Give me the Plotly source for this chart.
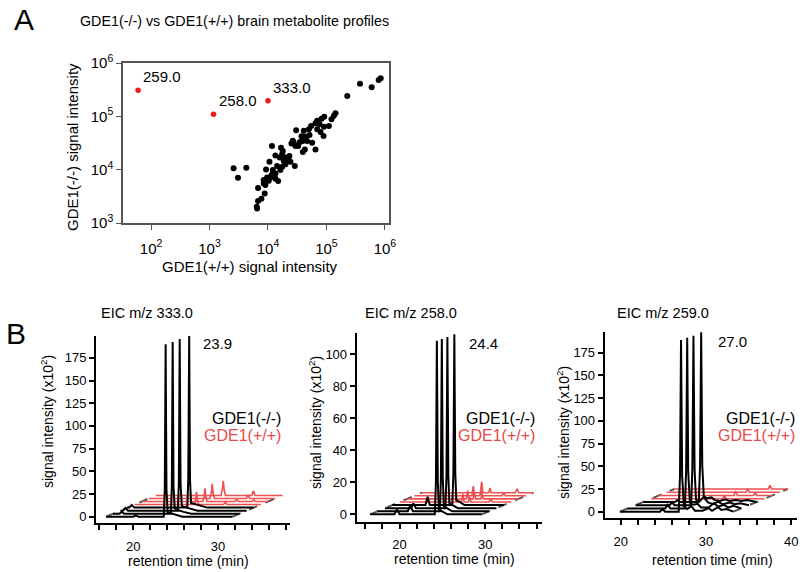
import math
import plotly.graph_objects as go

# ---- panel A: brain metabolite profiles (signal intensities) ----
wt_signal = [847000, 783000, 375000, 594000, 227000, 143000, 134000, 122000, 91600, 82400,
             69500, 65000, 76200, 90400, 110000, 54800, 50000, 41000, 30300, 69500,
             79300, 89200, 51300, 43800, 37400, 26600, 27600, 39400, 46800, 57000,
             42700, 39400, 29500, 65000, 32800, 16700, 17900, 11700, 13400, 15900,
             19900, 23300, 21200, 18600, 24200, 19900, 17500, 28800, 10600, 14300,
             9270, 12100, 16300, 13400, 11500, 9640, 8450, 10300, 13400, 14900,
             9030, 8450, 6760, 8790, 7710, 6760, 6410, 6500, 2580, 4260,
             3070, 25200, 22100, 19400, 13100, 11000, 17500, 35100]
ko_signal = [516000, 480000, 410000, 350000, 240000, 114000, 103000, 87700, 98500, 90300,
             82800, 73800, 70700, 64000, 65800, 65800, 57000, 53800, 54600, 57000,
             50800, 42800, 44700, 41500, 42100, 34900, 32000, 34400, 34400, 32000,
             24000, 21400, 27700, 24000, 27700, 25800, 22300, 27700, 18500, 17000,
             17000, 18000, 15600, 14700, 14100, 12600, 11400, 11700, 14100, 11700,
             10100, 9840, 9840, 8510, 7930, 7160, 6380, 6210, 6760, 6110,
             5140, 5530, 4520, 3590, 2850, 2580, 2020, 1880, 10600, 10900,
             7060, 31100, 17000, 13500, 7160, 7160, 19600, 33000]
hit_wt = [60, 1170, 10000]
hit_ko = [310000, 110000, 195000]
hit_labels = ["259.0", "258.0", "333.0"]

# ---- panel B: extracted ion chromatograms, 4 GDE1(-/-) then 4 GDE1(+/+) runs ----
eic_333_t = [
    [16.8, 20.0, 20.3, 20.6, 23.6, 23.72, 23.82, 23.92, 24.05, 24.4, 25.0, 25.8, 31.7],
    [16.8, 17.5, 17.8, 18.1, 23.6, 23.71, 23.81, 23.91, 24.05, 24.4, 25.1, 26.0, 31.7],
    [16.8, 17.1, 17.4, 17.7, 23.58, 23.7, 23.8, 23.9, 24.05, 24.4, 25.0, 25.9, 31.7],
    [16.8, 17.0, 17.3, 17.6, 23.85, 23.97, 24.08, 24.18, 24.3, 24.7, 25.3, 26.2, 31.7],
    [16.8, 23.85, 24.0, 24.1, 24.2, 24.35, 27.3, 27.5, 27.7, 31.7],
    [16.8, 24.0, 24.15, 24.26, 24.37, 24.5, 27.8, 28.0, 28.2, 29.8, 30.0, 30.2, 31.7],
    [16.8, 24.02, 24.17, 24.28, 24.39, 24.55, 28.3, 28.5, 28.7, 31.7],
    [16.8, 24.48, 24.63, 24.74, 24.85, 25.0, 28.1, 28.3, 28.5, 31.7],
]
eic_333_i = [
    [0, 0, 1.5, 0, 0, 30, 190, 30, 5, 4, 2, 0, 0],
    [0, 0, 2, 0, 0, 30, 189, 30, 6, 4, 2, 0, 0],
    [0, 0, 3, 0, 0, 30, 189, 30, 5, 4, 2, 0, 0],
    [0, 0, 3, 0, 0, 30, 189, 30, 5, 4, 2, 0, 0],
    [0, 0, 5, 14, 5, 0, 0, 3, 0, 0],
    [0, 0, 5, 14.6, 5, 0, 0, 2.5, 0, 0, 2, 0, 0],
    [0, 0, 6, 16, 6, 0, 0, 4, 0, 0],
    [0, 0, 6, 16, 6, 0, 0, 5, 0, 0],
]
eic_258_t = [
    [16.58, 19.4, 19.7, 20.0, 24.12, 24.25, 24.36, 24.47, 24.6, 25.0, 25.6, 29.6],
    [16.58, 20.1, 20.4, 20.7, 23.84, 23.97, 24.08, 24.19, 24.32, 24.7, 25.3, 29.6],
    [16.58, 19.6, 19.9, 20.2, 23.63, 23.76, 23.87, 23.98, 24.1, 24.5, 25.1, 29.6],
    [16.58, 20.45, 20.7, 20.95, 23.58, 23.71, 23.82, 23.93, 24.05, 24.45, 25.0, 29.6],
    [16.58, 23.8, 23.95, 24.1, 24.6, 24.75, 24.9, 27.0, 27.2, 27.4, 29.6],
    [16.58, 23.5, 23.65, 23.8, 24.3, 24.45, 24.6, 25.2, 25.35, 25.5, 29.6],
    [16.58, 23.3, 23.45, 23.6, 24.2, 24.35, 24.5, 26.8, 27.0, 27.2, 29.6],
    [16.58, 23.42, 23.57, 23.72, 24.4, 24.55, 24.7, 27.5, 27.7, 27.9, 29.6],
]
eic_258_i = [
    [0, 0, 3, 0, 0, 20, 108.5, 20, 3, 2, 0, 0],
    [0, 0, 3.9, 0, 0, 20, 107.6, 20, 3, 2, 0, 0],
    [0, 0, 3, 0, 0, 20, 107, 20, 3, 2, 0, 0],
    [0, 0, 5.2, 0, 0, 20, 106.7, 20, 3, 2, 0, 0],
    [0, 0, 5, 0, 0, 3, 0, 0, 2, 0, 0],
    [0, 0, 5, 0, 0, 4, 0, 0, 3, 0, 0],
    [0, 0, 6, 0, 0, 3, 0, 0, 2, 0, 0],
    [0, 0, 7, 0, 0, 3, 0, 0, 2.5, 0, 0],
]
eic_259_t = [
    [19.9, 24.6, 24.9, 25.2, 26.8, 26.95, 27.07, 27.2, 27.4, 27.8, 28.3, 28.7, 29.6, 30.3, 30.7, 31.4, 31.8, 32.4, 33.2],
    [19.9, 24.3, 24.6, 24.9, 26.6, 26.75, 26.88, 27.0, 27.2, 27.6, 28.1, 28.5, 29.4, 30.0, 30.5, 31.2, 31.7, 32.3, 33.2],
    [19.9, 23.9, 24.2, 24.5, 26.42, 26.57, 26.7, 26.83, 27.0, 27.4, 27.9, 28.4, 29.0, 29.6, 30.1, 31.0, 31.5, 32.2, 33.2],
    [19.9, 23.6, 23.9, 24.2, 26.41, 26.56, 26.69, 26.82, 27.0, 27.4, 27.9, 28.3, 28.9, 29.5, 30.0, 30.8, 31.4, 32.1, 33.2],
    [19.9, 28.3, 28.5, 28.7, 33.2],
    [19.9, 28.7, 28.9, 29.1, 31.0, 31.2, 31.4, 33.2],
    [19.9, 29.2, 29.4, 29.6, 33.2],
    [19.9, 30.9, 31.1, 31.3, 33.2],
]
eic_259_i = [
    [0, 0, 3, 0, 0, 40, 189, 40, 6, 3, 6, 1, 1, 4, 1, 5, 2, 3, 0],
    [0, 0, 4, 0, 0, 40, 188, 40, 6, 4, 5, 1, 1, 6, 2, 4, 1, 3, 0],
    [0, 0, 3, 0, 0, 40, 186.7, 40, 6, 4, 9, 3, 1, 4, 1, 3, 1, 2, 0],
    [0, 0, 2, 0, 0, 40, 186.9, 40, 6, 4, 5, 2, 1, 3, 1, 2, 1, 2, 0],
    [0, 0, 4, 0, 0],
    [0, 0, 5, 0, 0, 3, 0, 0],
    [0, 0, 4, 0, 0],
    [0, 0, 4, 0, 0],
]
eic_titles = ["EIC m/z 333.0", "EIC m/z 258.0", "EIC m/z 259.0"]
peak_labels = ["23.9", "24.4", "27.0"]

FONT = "Arial, Liberation Sans, sans-serif"
RED_LINE = "#EE5050"
W, H = 800, 572


def px(x):
    return x / W


def py(y):
    return 1 - y / H


fig = go.Figure()

# panel A scatter
fig.add_trace(go.Scatter(x=wt_signal, y=ko_signal, mode="markers", xaxis="x", yaxis="y",
                         marker=dict(color="black", size=6, line=dict(width=0)), showlegend=False))
fig.add_trace(go.Scatter(x=hit_wt, y=hit_ko, mode="markers", xaxis="x", yaxis="y",
                         marker=dict(color="#F01818", size=5.5, line=dict(width=0)), showlegend=False))

annotations = []
for wx, ky, lab in zip(hit_wt, hit_ko, hit_labels):
    annotations.append(dict(x=math.log10(wx), y=math.log10(ky), xref="x", yref="y", text=lab,
                            showarrow=False, xanchor="left", yanchor="bottom", xshift=3, yshift=3,
                            font=dict(size=15, color="black", family=FONT)))

# panel B waterfall settings: (times, intensities, x step, y step, axis id)
panels = [
    (eic_333_t, eic_333_i, 0.84, 3.35, "2"),
    (eic_258_t, eic_258_i, 0.86, 1.93, "3"),
    (eic_259_t, eic_259_i, 0.914, 3.57, "4"),
]
for times, ints, dx, dy, ax in panels:
    n = len(times)
    t0, t1 = times[0][0], times[0][-1]
    # dashed floor edges through the start and end of each run
    for tt in (t0, t1):
        fig.add_trace(go.Scatter(x=[tt, tt + (n - 1) * dx], y=[0, (n - 1) * dy], mode="lines",
                                 xaxis="x" + ax, yaxis="y" + ax, showlegend=False,
                                 line=dict(color="#555555", width=2, dash="dash")))
    for k in reversed(range(n)):
        col = "black" if k < 4 else RED_LINE
        fig.add_trace(go.Scatter(x=[t + k * dx for t in times[k]], y=[v + k * dy for v in ints[k]],
                                 mode="lines", xaxis="x" + ax, yaxis="y" + ax, showlegend=False,
                                 line=dict(color=col, width=2 if k < 4 else 1.6)))

base_ax = dict(showgrid=False, zeroline=False, showline=True, ticks="outside", automargin=False,
               tickfont=dict(size=13, color="black", family=FONT))
panel_x = dict(base_ax, linecolor="black", linewidth=2, tickcolor="black", tickwidth=1.5, ticklen=5,
               tickmode="linear", tick0=0, dtick=10, ticklabelstandoff=5,
               minor=dict(dtick=2, ticks="outside", ticklen=5, tickcolor="black", tickwidth=1.5))
panel_y = dict(base_ax, linecolor="black", linewidth=2, tickcolor="black", tickwidth=1.5, ticklen=5,
               tickmode="linear", tick0=0)

log_ticks = [100, 1e3, 1e4, 1e5, 1e6]
fig.update_layout(
    template="none",
    width=W, height=H, margin=dict(l=0, r=0, t=0, b=0, pad=0), autosize=False,
    paper_bgcolor="white", plot_bgcolor="white",
    font=dict(family=FONT, color="black"),
    xaxis=dict(base_ax, type="log", range=[1.52, 6.07], domain=[px(123), px(389)], anchor="y",
               mirror=True, linecolor="#555555", linewidth=1.5, tickcolor="#555555", ticklen=5,
               ticklabelstandoff=6,
               tickvals=log_ticks, ticktext=["10<sup>%d</sup>" % e for e in range(2, 7)],
               tickfont=dict(size=15, color="black", family=FONT)),
    yaxis=dict(base_ax, type="log", range=[3, 6], domain=[py(223), py(63)], anchor="x",
               mirror=True, linecolor="#555555", linewidth=1.5, tickcolor="#555555", ticklen=5,
               tickvals=log_ticks[1:], ticktext=["10<sup>%d</sup>" % e for e in range(3, 7)],
               tickfont=dict(size=15, color="black", family=FONT)),
    xaxis2=dict(panel_x, range=[15.6, 38.5], domain=[px(96), px(290)], anchor="y2"),
    yaxis2=dict(panel_y, range=[-6.9, 199], dtick=25, domain=[py(523), py(336)], anchor="x2"),
    xaxis3=dict(panel_x, range=[15.0, 36.6], domain=[px(356.7), px(541.7)], anchor="y3"),
    yaxis3=dict(panel_y, range=[-4.6, 113.3], dtick=20, domain=[py(521.7), py(333)], anchor="x3"),
    xaxis4=dict(panel_x, range=[18.12, 40.67], domain=[px(604.7), px(797)], anchor="y4"),
    yaxis4=dict(panel_y, range=[-7.3, 197.9], dtick=25, domain=[py(518.3), py(332)], anchor="x4"),
)


def label(x, y, text, size, color="black", anchor="center", angle=0):
    annotations.append(dict(x=px(x), y=py(y), xref="paper", yref="paper", text=text, showarrow=False,
                            xanchor=anchor, yanchor="middle", textangle=angle,
                            font=dict(size=size, color=color, family=FONT)))


label(24, 19, "A", 30)
label(78, 21, "GDE1(-/-) vs GDE1(+/+) brain metabolite profiles", 14.3, anchor="left")
label(250, 266, "GDE1(+/+) signal intensity", 15)
label(72, 147, "GDE1(-/-) signal intensity", 15, angle=-90)
label(16, 333, "B", 30)

title_x = [147, 411, 663]
peak_x = [217, 483, 732]
peak_y = [343, 343, 341]
legend_right = [283, 537, 797]
ytitle_pos = [(47, 422), (315, 423), (563, 433)]
xtitle_pos = [(188, 561), (454, 559), (712, 560)]
for i in range(3):
    label(title_x[i], 313, eic_titles[i], 14.5)
    label(peak_x[i], peak_y[i], peak_labels[i], 15)
    label(legend_right[i], 418, "GDE1(-/-)", 16, anchor="right")
    label(legend_right[i], 436, "GDE1(+/+)", 16, color="#E84A4A", anchor="right")
    label(ytitle_pos[i][0], ytitle_pos[i][1], "signal intensity (x10<sup>2</sup>)", 14, angle=-90)
    label(xtitle_pos[i][0], xtitle_pos[i][1], "retention time (min)", 14)

fig.update_layout(annotations=annotations)
fig.write_html("out.html", config={"displayModeBar": False},
               post_script="document.body.style.margin='0px';")
